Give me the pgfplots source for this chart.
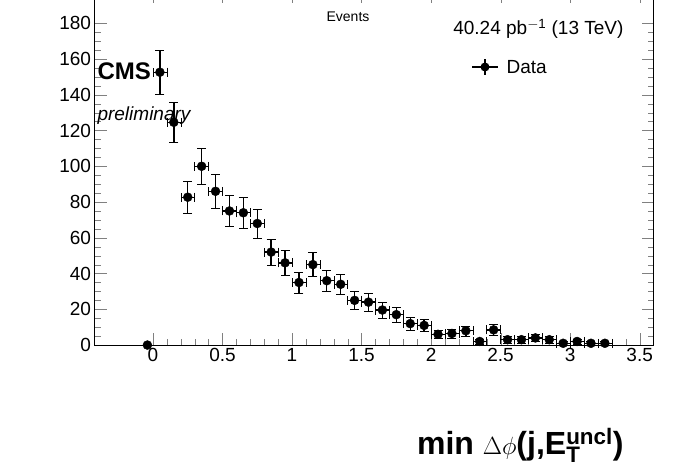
\documentclass[border=0pt]{standalone}
\usepackage{pgfplots}
\pgfplotsset{compat=1.18}
\usepackage{fontspec}
\setmainfont{Liberation Sans}
\setsansfont{Liberation Sans}
\begin{document}
\begin{tikzpicture}[x=1pt,y=1pt]
\path[use as bounding box] (0,0) rectangle (696,472);
\begin{axis}[at={(68,71)},anchor=south west,scale only axis,width=559pt,height=354pt,
 xmin=-0.42,xmax=3.6,ymin=0,ymax=198,
 xtick={0,0.5,...,3.5},ytick={0,20,...,180},
 minor x tick num=4, minor y tick num=3,
 tick align=inside, tick pos=both,
 major tick length=12pt, minor tick length=6pt,
 ticklabel style={font=\fontsize{19}{19}\selectfont},
 /pgf/number format/assume math mode=true,
 clip=false, axis line style={black}]
\addplot[only marks, mark=*, mark size=4.5pt, black,
 error bars/.cd, x dir=both, x explicit, y dir=both, y explicit,
 error bar style={line width=1.4pt}]
 table[x=x,y=y,x error=ex,y error=ey]{
x y ex ey
0.05 152.6 0.05 12.4
0.15 124.6 0.05 11.2
0.25 82.7 0.05 9.1
0.35 100 0.05 10
0.45 86 0.05 9.3
0.55 75 0.05 8.7
0.65 74 0.05 8.6
0.75 68 0.05 8.2
0.85 52 0.05 7.2
0.95 46 0.05 6.8
1.05 35 0.05 5.9
1.15 45 0.05 6.7
1.25 36 0.05 6
1.35 34 0.05 5.8
1.45 25 0.05 5
1.55 24 0.05 4.9
1.65 19.6 0.05 4.4
1.75 17 0.05 4.1
1.85 12 0.05 3.5
1.95 11 0.05 3.3
2.05 6 0.05 2.4
2.15 6.5 0.05 2.5
2.25 8 0.05 2.8
2.35 2 0.05 1.4
2.45 8.5 0.05 2.9
2.55 3 0.05 1.7
2.65 3 0.05 1.7
2.75 4 0.05 2
2.85 3 0.05 1.7
2.95 1 0.05 1
3.05 2 0.05 1.4
3.15 1 0.05 1
3.25 1 0.05 1
};
\addplot[only marks, mark=*, mark size=4.5pt, black] coordinates {(-0.04,0)};
\end{axis}
\node[anchor=base west,font=\fontsize{24}{24}\selectfont\bfseries] at (94,392) {CMS};
\node[anchor=base west,font=\fontsize{19}{19}\selectfont\itshape] at (94,351) {preliminary};
\node[anchor=base,font=\fontsize{14}{14}\selectfont] at (348,450) {Events};
\node[anchor=base east,font=\fontsize{19}{19}\selectfont] at (627,437) {40.24 pb$^{\mathsf{-1}}$ (13 TeV)};
\draw[line width=1.4pt] (472,405)--(498,405); \fill (485,405) circle (4.5pt); \draw[line width=1.4pt](485,397)--(485,413);
\node[anchor=base west,font=\fontsize{19}{19}\selectfont] at (503,398) {Data};
\node[anchor=base east,font=\fontsize{32}{32}\selectfont\bfseries] at (627,18) {min $\Delta\phi$(j,E$_{\mathsf{\mathbf{T}}}^{\mathsf{\mathbf{uncl}}}$)};
\end{tikzpicture}
\end{document}
